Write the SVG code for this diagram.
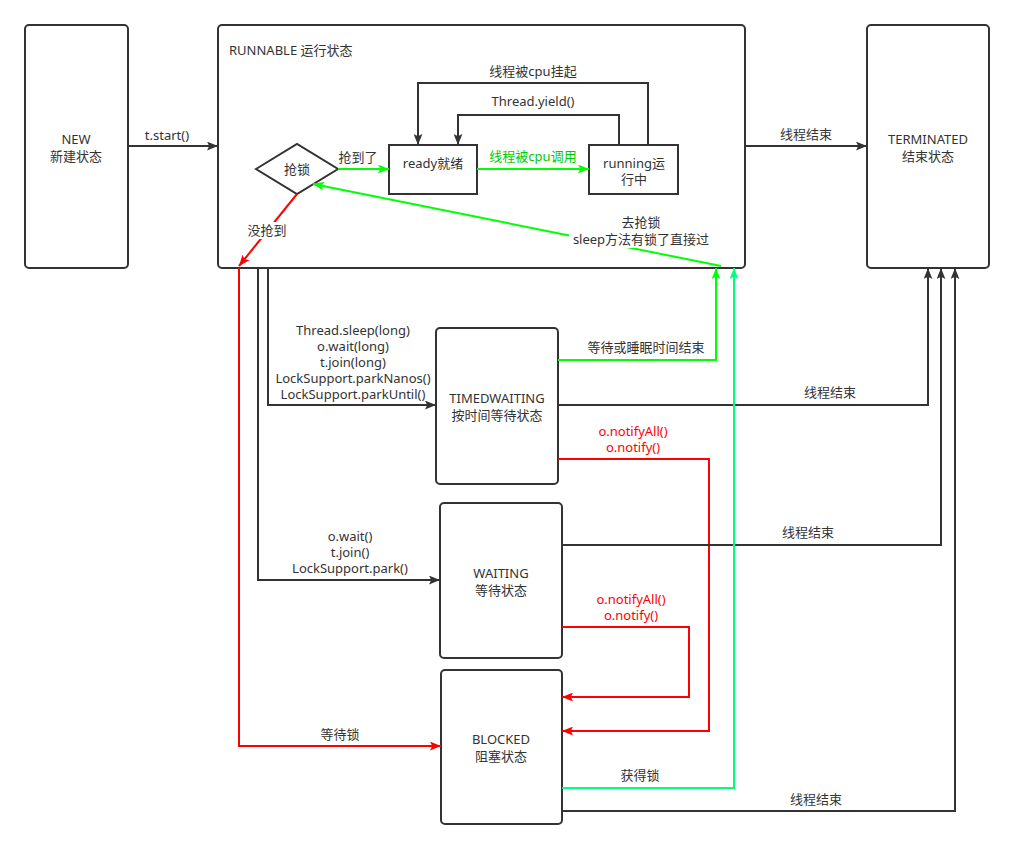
<svg xmlns="http://www.w3.org/2000/svg" width="1014" height="848" viewBox="0 0 1014 848">
  <style>
    text { font-family: "Noto Sans", "Liberation Sans", "Noto Sans CJK SC", sans-serif; font-size: 13px; fill: #333333; }
    .c { text-anchor: middle; }
    .box { fill: #ffffff; stroke: #333333; stroke-width: 2; }
    .ln { fill: none; stroke-width: 2; }
    .dk { stroke: #333333; }
    .gr { stroke: #00ff00; }
    .rd { stroke: #ff0000; }
    .sg { stroke: #00ff80; }
    .red { fill: #ff0000; }
    .grt { fill: #00cc00; }
  </style>
  <defs>
    <marker id="aDk" viewBox="0 0 10 8" refX="10" refY="4" markerWidth="11" markerHeight="9" orient="auto" markerUnits="userSpaceOnUse">
      <path d="M0,0 L10,4 L0,8 L2,4 z" fill="#333333"/>
    </marker>
    <marker id="aGr" viewBox="0 0 10 8" refX="10" refY="4" markerWidth="11" markerHeight="9" orient="auto" markerUnits="userSpaceOnUse">
      <path d="M0,0 L10,4 L0,8 L2,4 z" fill="#00ff00"/>
    </marker>
    <marker id="aRd" viewBox="0 0 10 8" refX="10" refY="4" markerWidth="11" markerHeight="9" orient="auto" markerUnits="userSpaceOnUse">
      <path d="M0,0 L10,4 L0,8 L2,4 z" fill="#ff0000"/>
    </marker>
    <marker id="aSg" viewBox="0 0 10 8" refX="10" refY="4" markerWidth="11" markerHeight="9" orient="auto" markerUnits="userSpaceOnUse">
      <path d="M0,0 L10,4 L0,8 L2,4 z" fill="#00ff80"/>
    </marker>
  </defs>
  <rect width="1014" height="848" fill="#ffffff"/>

  <!-- outer state containers -->
  <g id="new">
    <rect class="box" x="25" y="25" width="103" height="243" rx="4"/>
    <text class="c" x="76" y="144">NEW</text>
    <text class="c" x="76" y="161">新建状态</text>
  </g>
  <g id="runnable">
    <rect class="box" x="218" y="25" width="527" height="243" rx="4"/>
    <text x="229" y="55">RUNNABLE 运行状态</text>
  </g>
  <g id="terminated">
    <rect class="box" x="867" y="25" width="122" height="243" rx="4"/>
    <text class="c" x="928" y="144">TERMINATED</text>
    <text class="c" x="928" y="161">结束状态</text>
  </g>

  <!-- inner nodes of RUNNABLE -->
  <g id="lock">
    <polygon class="box" points="256,169 297,144 338,169 297,194"/>
    <text class="c" x="297" y="174">抢锁</text>
  </g>
  <g id="ready">
    <rect class="box" x="389" y="145" width="88" height="49"/>
    <text class="c" x="433" y="168">ready就绪</text>
  </g>
  <g id="running">
    <rect class="box" x="589" y="145" width="89" height="49"/>
    <text class="c" x="634" y="168">running运</text>
    <text class="c" x="634" y="184">行中</text>
  </g>

  <!-- waiting states -->
  <g id="timedwaiting">
    <rect class="box" x="436" y="328" width="122" height="156" rx="4"/>
    <text class="c" x="497" y="403">TIMEDWAITING</text>
    <text class="c" x="497" y="420">按时间等待状态</text>
  </g>
  <g id="waiting">
    <rect class="box" x="440" y="503" width="122" height="155" rx="4"/>
    <text class="c" x="501" y="578">WAITING</text>
    <text class="c" x="501" y="595">等待状态</text>
  </g>
  <g id="blocked">
    <rect class="box" x="441" y="670" width="121" height="154" rx="4"/>
    <text class="c" x="501" y="744">BLOCKED</text>
    <text class="c" x="501" y="761">阻塞状态</text>
  </g>

  <g id="connectors">
    <!-- NEW -> RUNNABLE -->
    <path class="ln dk" d="M128,146 L218,146" marker-end="url(#aDk)"/>
    <text class="c" x="167" y="140">t.start()</text>

    <!-- RUNNABLE -> TERMINATED -->
    <path class="ln dk" d="M745,146 L867,146" marker-end="url(#aDk)"/>
    <text class="c" x="806" y="139">线程结束</text>

    <!-- lock acquired -> ready -->
    <path class="ln gr" d="M338,169 L389,169" marker-end="url(#aGr)"/>
    <text class="c" x="358" y="162">抢到了</text>

    <!-- ready -> running -->
    <path class="ln gr" d="M477,169 L589,169" marker-end="url(#aGr)"/>
    <text class="c grt" x="533" y="161">线程被cpu调用</text>

    <!-- running -> ready loops -->
    <path class="ln dk" d="M648,145 L648,83 L418,83 L418,145" marker-end="url(#aDk)"/>
    <text class="c" x="533" y="76">线程被cpu挂起</text>
    <path class="ln dk" d="M619,145 L619,115 L458,115 L458,145" marker-end="url(#aDk)"/>
    <text class="c" x="533" y="106">Thread.yield()</text>

    <!-- lock missed -> BLOCKED -->
    <path class="ln rd" d="M297,194 L239,266" marker-end="url(#aRd)"/>
    <rect x="246" y="222" width="42" height="17" fill="#ffffff"/>
    <text class="c" x="267" y="235">没抢到</text>
    <path class="ln rd" d="M239,268 L239,746 L441,746" marker-end="url(#aRd)"/>
    <text class="c" x="340" y="739">等待锁</text>

    <!-- back to lock attempt -->
    <path class="ln gr" d="M721,266 L313,184" marker-end="url(#aGr)"/>
    <rect x="569" y="214" width="144" height="34" fill="#ffffff"/>
    <text class="c" x="641" y="227">去抢锁</text>
    <text class="c" x="641" y="244">sleep方法有锁了直接过</text>

    <!-- RUNNABLE -> TIMEDWAITING -->
    <path class="ln dk" d="M268,268 L268,405 L436,405" marker-end="url(#aDk)"/>
    <text class="c" x="353" y="335">Thread.sleep(long)</text>
    <text class="c" x="353" y="351">o.wait(long)</text>
    <text class="c" x="353" y="367">t.join(long)</text>
    <text class="c" x="353" y="383">LockSupport.parkNanos()</text>
    <text class="c" x="353" y="399">LockSupport.parkUntil()</text>

    <!-- RUNNABLE -> WAITING -->
    <path class="ln dk" d="M258,268 L258,580 L440,580" marker-end="url(#aDk)"/>
    <text class="c" x="350" y="541">o.wait()</text>
    <text class="c" x="350" y="557">t.join()</text>
    <text class="c" x="350" y="573">LockSupport.park()</text>

    <!-- TIMEDWAITING -> RUNNABLE -->
    <path class="ln gr" d="M558,360 L716,360 L716,268" marker-end="url(#aGr)"/>
    <text class="c" x="646" y="352">等待或睡眠时间结束</text>

    <!-- TIMEDWAITING -> TERMINATED -->
    <path class="ln dk" d="M558,405 L928,405 L928,268" marker-end="url(#aDk)"/>
    <text class="c" x="830" y="397">线程结束</text>

    <!-- TIMEDWAITING -> BLOCKED -->
    <path class="ln rd" d="M558,459 L709,459 L709,731 L562,731" marker-end="url(#aRd)"/>
    <text class="c red" x="633" y="436">o.notifyAll()</text>
    <text class="c red" x="633" y="452">o.notify()</text>

    <!-- WAITING -> TERMINATED -->
    <path class="ln dk" d="M562,545 L941,545 L941,268" marker-end="url(#aDk)"/>
    <text class="c" x="808" y="537">线程结束</text>

    <!-- WAITING -> BLOCKED -->
    <path class="ln rd" d="M562,627 L689,627 L689,697 L562,697" marker-end="url(#aRd)"/>
    <text class="c red" x="631" y="604">o.notifyAll()</text>
    <text class="c red" x="631" y="620">o.notify()</text>

    <!-- BLOCKED -> RUNNABLE -->
    <path class="ln sg" d="M562,788 L734,788 L734,268" marker-end="url(#aSg)"/>
    <text class="c" x="640" y="780">获得锁</text>

    <!-- BLOCKED -> TERMINATED -->
    <path class="ln dk" d="M562,811 L955,811 L955,268" marker-end="url(#aDk)"/>
    <text class="c" x="816" y="804">线程结束</text>
  </g>
</svg>
